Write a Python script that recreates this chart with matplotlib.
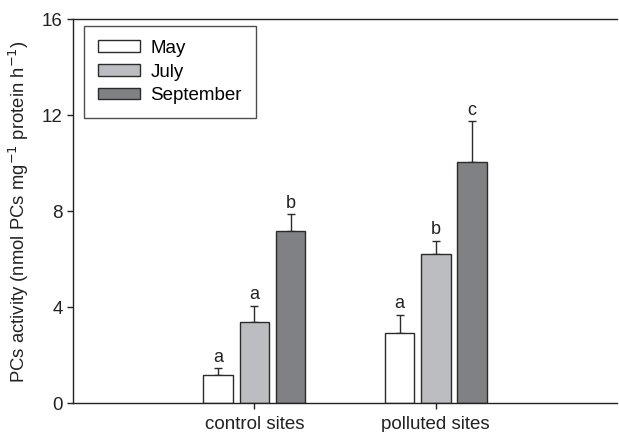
import numpy as np
import matplotlib.pyplot as plt

plt.rcParams['font.family'] = ['Liberation Sans', 'DejaVu Sans']

# Data
sites = ['control sites', 'polluted sites']
months = ['May', 'July', 'September']
may = [1.18, 2.92]
july = [3.38, 6.22]
september = [7.19, 10.07]
may_err = [0.29, 0.77]
july_err = [0.69, 0.55]
september_err = [0.69, 1.68]
may_letters = ['a', 'a']
july_letters = ['a', 'b']
september_letters = ['b', 'c']

colors = ['white', '#bcbdc0', '#808185']
edge = '#2b2b2b'

fig = plt.figure(figsize=(6.19, 4.32), dpi=100)
ax = fig.add_axes([0.118, 0.066, 0.879, 0.890])

x = np.arange(1, len(sites) + 1)
width = 0.163
offsets = [-0.2, 0.0, 0.2]
series = [may, july, september]
errors = [may_err, july_err, september_err]
letters = [may_letters, july_letters, september_letters]

for vals, errs, labs, off, col, name in zip(series, errors, letters, offsets, colors, months):
    ax.bar(x + off, vals, width, color=col, edgecolor=edge, linewidth=1.0, label=name, zorder=2)
    ax.errorbar(x + off, vals, yerr=[np.zeros(len(vals)), errs], fmt='none',
                ecolor=edge, elinewidth=1.0, capsize=3, capthick=1.0, zorder=1)
    for xi, v, e, t in zip(x + off, vals, errs, labs):
        ax.text(xi, v + e + 0.1, t, ha='center', va='bottom', fontsize=13, color='#222222')

ax.set_xlim(0, 3)
ax.set_ylim(0, 16)
ax.set_yticks([0, 4, 8, 12, 16])
ax.set_xticks(x)
ax.set_xticklabels(sites)
ax.tick_params(axis='both', labelsize=13.5, colors='#222222', length=4, width=1)
ax.tick_params(axis='x', pad=5)
ax.set_ylabel('PCs activity (nmol PCs mg$^{-1}$ protein h$^{-1}$)', fontsize=13.3, color='#222222')
ax.yaxis.set_label_coords(-0.077, 0.5)

ax.spines['right'].set_visible(False)
for s in ['left', 'bottom', 'top']:
    ax.spines[s].set_color('#222222')
    ax.spines[s].set_linewidth(1.0)

leg = ax.legend(loc='upper left', bbox_to_anchor=(0.020, 0.982), borderaxespad=0,
                fontsize=13.5, frameon=True, fancybox=False, edgecolor='#222222',
                handlelength=2.25, handleheight=0.6, borderpad=0.75, labelspacing=0.35,
                handletextpad=0.55)
leg.get_frame().set_linewidth(1.0)

fig.savefig('out.png', dpi=100)
